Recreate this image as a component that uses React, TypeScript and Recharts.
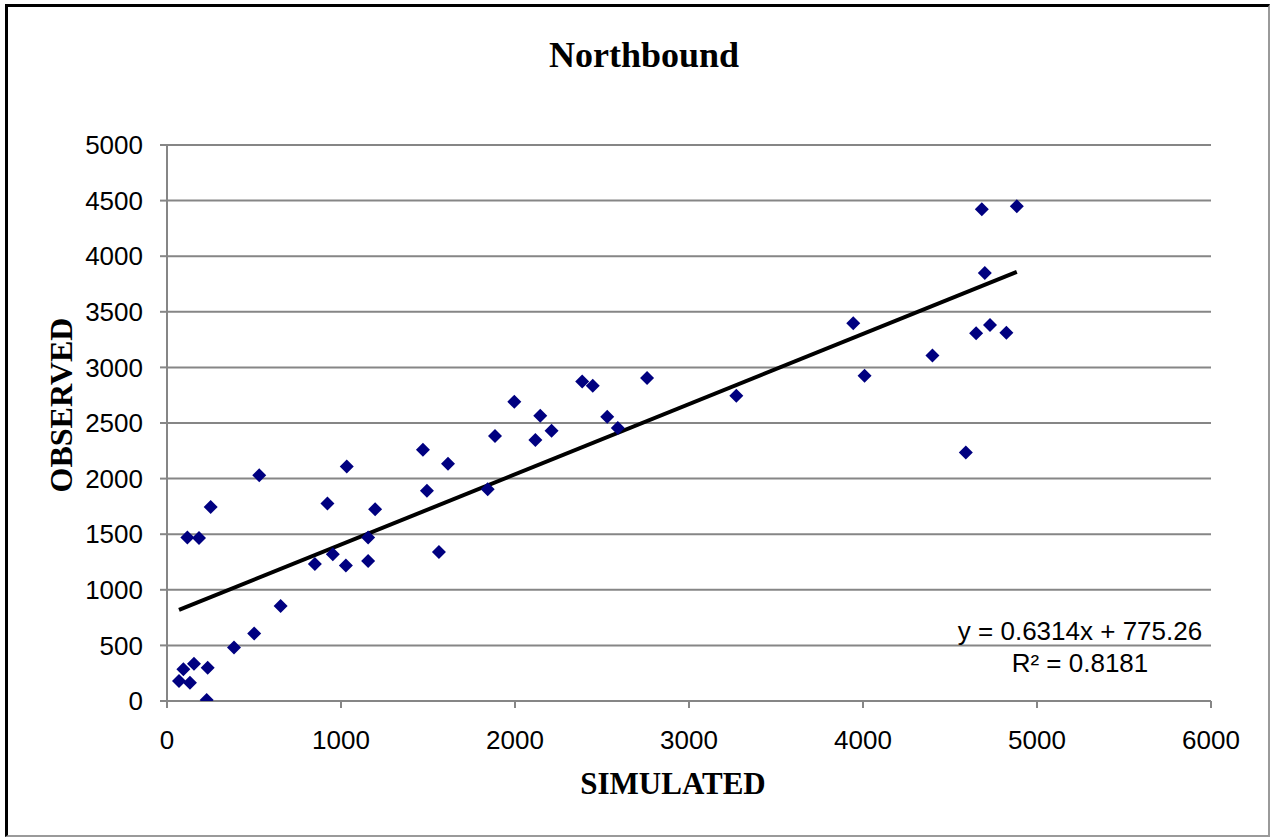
import React from 'react';
import { ScatterChart, Scatter, XAxis, YAxis, CartesianGrid, ReferenceLine } from 'recharts';

const simulated = [117, 184, 251, 530, 94, 155, 234, 69, 132, 228, 385, 501, 653, 850, 922, 953, 1028, 1033, 1156, 1156, 1196, 1471, 1494, 1563, 1615, 1843, 1885, 1996, 2117, 2145, 2210, 2386, 2447, 2530, 2591, 2759, 3272, 3944, 4009, 4399, 4591, 4650, 4730, 4824, 4700, 4683, 4884];
const observed = [1470, 1465, 1745, 2030, 285, 336, 300, 180, 165, 9, 480, 606, 855, 1233, 1776, 1320, 1218, 2109, 1470, 1260, 1725, 2259, 1890, 1341, 2133, 1905, 2382, 2691, 2346, 2565, 2430, 2874, 2835, 2556, 2454, 2904, 2745, 3396, 2925, 3108, 2235, 3306, 3381, 3312, 3849, 4422, 4449];

const xTicks = [0, 1000, 2000, 3000, 4000, 5000, 6000];
const yTicks = [0, 500, 1000, 1500, 2000, 2500, 3000, 3500, 4000, 4500, 5000];

const slope = 0.6314;
const intercept = 775.26;
const equationLabel = 'y = 0.6314x + 775.26';
const r2Label = 'R² = 0.8181';

const points = simulated.map((x, i) => ({ x, y: observed[i] }));
const xMin = Math.min(...simulated);
const xMax = Math.max(...simulated);
const trendSegment = [
  { x: xMin, y: slope * xMin + intercept },
  { x: xMax, y: slope * xMax + intercept },
];

const Diamond = (props: any) => {
  const { cx, cy } = props;
  if (cx == null || cy == null) return <g />;
  const r = 7;
  return (
    <path
      d={`M${cx},${cy - r} L${cx + r},${cy} L${cx},${cy + r} L${cx - r},${cy} Z`}
      fill="#000080"
    />
  );
};

const tickStyle = { fontSize: 26, fill: '#000', fontFamily: '"Liberation Sans", Arial, sans-serif' };
const gray = '#868686';

export default function App() {
  return (
    <div style={{ position: 'absolute', left: 0, top: 0, width: 1270, height: 837, background: '#fff' }}>
      <ScatterChart width={1270} height={837} margin={{ top: 145, right: 59, bottom: 0, left: 0 }}>
        <CartesianGrid horizontal={true} vertical={false} stroke={gray} strokeWidth={2} />
        <XAxis
          type="number"
          dataKey="x"
          domain={[0, 6000]}
          ticks={xTicks}
          height={136}
          tickSize={7}
          tickMargin={23}
          tick={tickStyle}
          axisLine={{ stroke: gray, strokeWidth: 2 }}
          tickLine={{ stroke: gray, strokeWidth: 2 }}
          allowDataOverflow
        />
        <YAxis
          type="number"
          dataKey="y"
          domain={[0, 5000]}
          ticks={yTicks}
          width={167}
          tickSize={7}
          tickMargin={17}
          tick={tickStyle}
          axisLine={{ stroke: gray, strokeWidth: 2 }}
          tickLine={{ stroke: gray, strokeWidth: 2 }}
          allowDataOverflow
        />
        <Scatter data={points} shape={Diamond} isAnimationActive={false} />
        <ReferenceLine segment={trendSegment} stroke="#000" strokeWidth={4} />
      </ScatterChart>
      <svg
        width={1270}
        height={837}
        style={{ position: 'absolute', left: 0, top: 0, pointerEvents: 'none' }}
      >
        <text x={644} y={67} textAnchor="middle" fontFamily='"Liberation Serif", "Times New Roman", serif' fontWeight="bold" fontSize={36} fill="#000">
          Northbound
        </text>
        <text x={673} y={794} textAnchor="middle" fontFamily='"Liberation Serif", "Times New Roman", serif' fontWeight="bold" fontSize={31} fill="#000">
          SIMULATED
        </text>
        <text
          x={72}
          y={405}
          textAnchor="middle"
          transform="rotate(-90, 72, 405)"
          fontFamily='"Liberation Serif", "Times New Roman", serif'
          fontWeight="bold"
          fontSize={32}
          fill="#000"
        >
          OBSERVED
        </text>
        <text x={1080} y={640} textAnchor="middle" fontFamily='"Liberation Sans", Arial, sans-serif' fontSize={26} fill="#000">
          {equationLabel}
        </text>
        <text x={1080} y={672} textAnchor="middle" fontFamily='"Liberation Sans", Arial, sans-serif' fontSize={26} fill="#000">
          {r2Label}
        </text>
      </svg>
      <div
        style={{
          position: 'absolute',
          left: 5,
          top: 4,
          right: 0,
          bottom: 0,
          boxSizing: 'border-box',
          borderLeft: '3px solid #000',
          borderTop: '3px solid #000',
          borderRight: '2px solid #9a9a9a',
          borderBottom: '2px solid #9a9a9a',
          pointerEvents: 'none',
        }}
      />
    </div>
  );
}
